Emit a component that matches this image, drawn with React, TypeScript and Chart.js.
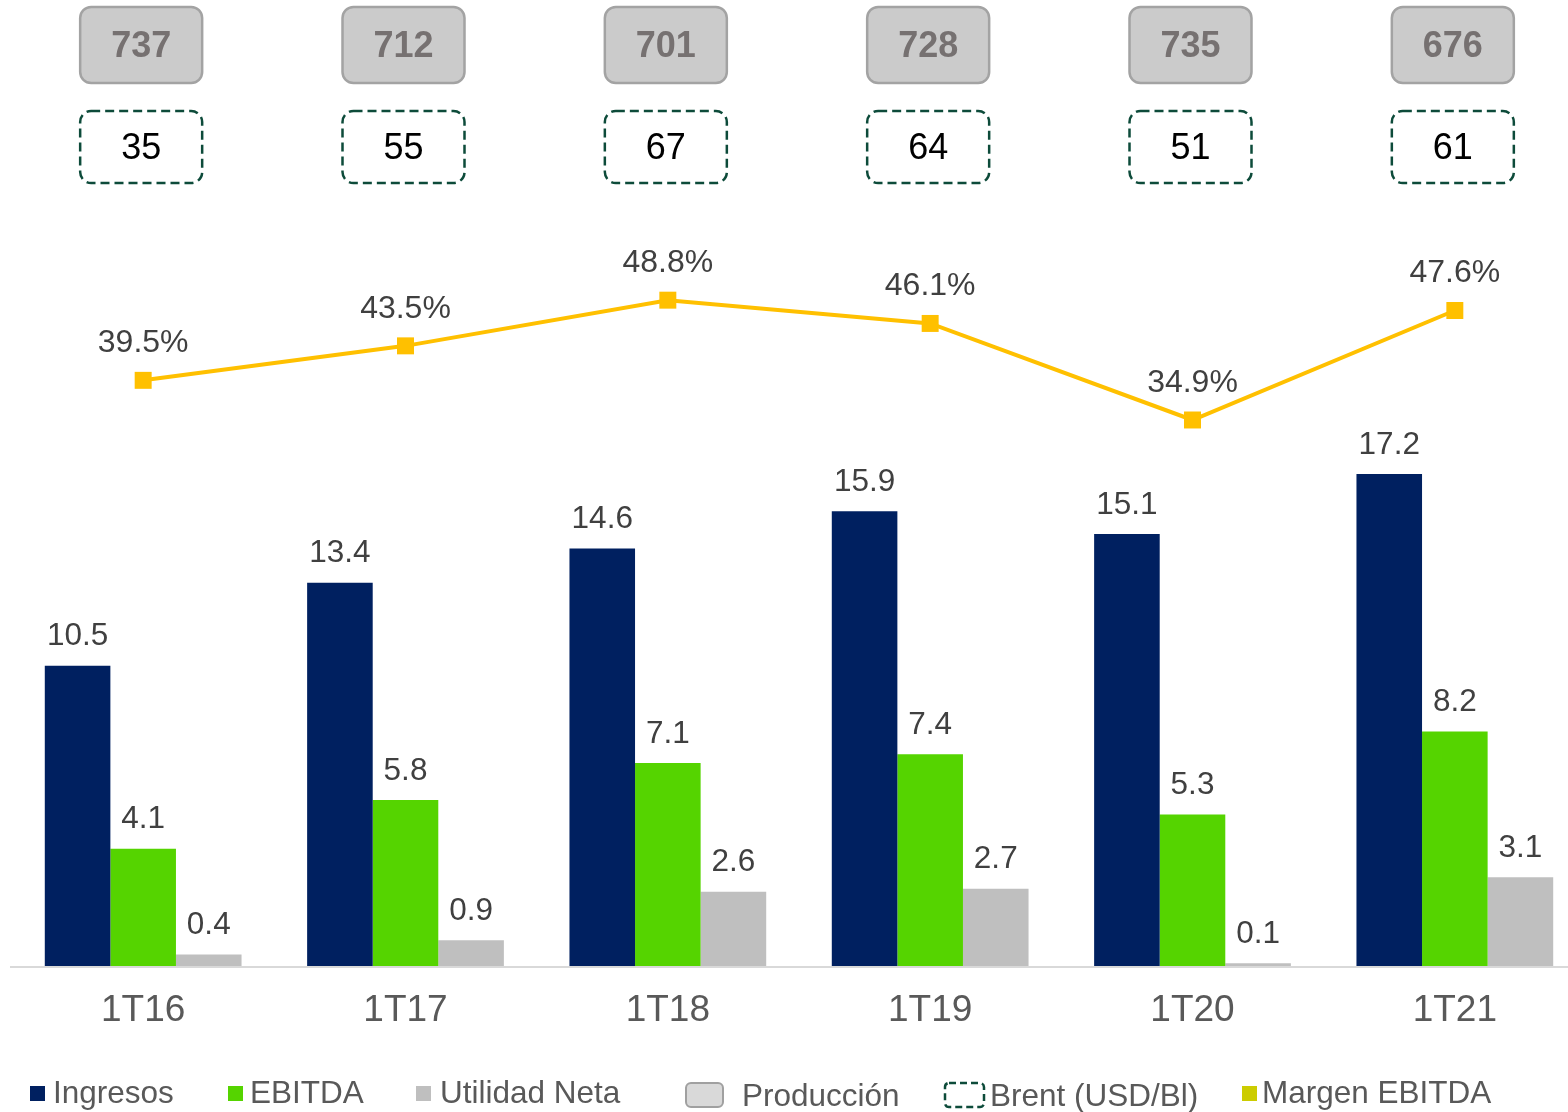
import React, { useEffect, useRef } from "react";
import { Chart, registerables } from "chart.js";

Chart.register(...registerables);

const categories = ["1T16", "1T17", "1T18", "1T19", "1T20", "1T21"];
const ingresos = [10.5, 13.4, 14.6, 15.9, 15.1, 17.2];
const ebitda = [4.1, 5.8, 7.1, 7.4, 5.3, 8.2];
const utilidadNeta = [0.4, 0.9, 2.6, 2.7, 0.1, 3.1];
const margenEbitda = [39.5, 43.5, 48.8, 46.1, 34.9, 47.6];
const produccion = [737, 712, 701, 728, 735, 676];
const brent = [35, 55, 67, 64, 51, 61];

const FONT = '"Liberation Sans", Arial, sans-serif';
const C_NAVY = "#002060";
const C_GREEN = "#55D400";
const C_GRAY = "#BFBFBF";
const C_LINE = "#FFC000";
const C_TEXT = "#404040";
const C_AXISTEXT = "#595959";

const overlayPlugin = {
  id: "overlay",
  beforeDatasetsDraw(chart: any) {
    const ctx = chart.ctx;
    const y = chart.chartArea.bottom;
    ctx.save();
    ctx.strokeStyle = "#D9D9D9";
    ctx.lineWidth = 2;
    ctx.beginPath();
    ctx.moveTo(10, y + 1);
    ctx.lineTo(chart.width, y + 1);
    ctx.stroke();
    ctx.restore();
  },
  afterDatasetsDraw(chart: any) {
    const ctx = chart.ctx;
    const xs = chart.scales.x;
    ctx.save();
    ctx.textAlign = "center";
    ctx.textBaseline = "middle";
    // bar labels
    ctx.font = `31.5px ${FONT}`;
    ctx.fillStyle = C_TEXT;
    [0, 1, 2].forEach((di) => {
      const meta = chart.getDatasetMeta(di);
      const vals = chart.data.datasets[di].data as number[];
      meta.data.forEach((el: any, i: number) => {
        ctx.fillText(vals[i].toFixed(1), el.x, el.y - 29);
      });
    });
    // line labels
    ctx.font = `32px ${FONT}`;
    const lm = chart.getDatasetMeta(3);
    lm.data.forEach((el: any, i: number) => {
      ctx.fillText(margenEbitda[i].toFixed(1) + "%", el.x, el.y - 37);
    });
    // category labels
    ctx.font = `37px ${FONT}`;
    ctx.fillStyle = C_AXISTEXT;
    categories.forEach((c, i) => {
      ctx.fillText(c, xs.getPixelForValue(i), chart.chartArea.bottom + 45);
    });
    // top boxes
    categories.forEach((_, i) => {
      const cx = xs.getPixelForValue(i) - 2;
      // production
      ctx.beginPath();
      ctx.roundRect(cx - 61, 7, 122, 76, 11);
      ctx.fillStyle = "#CBCBCB";
      ctx.fill();
      ctx.lineWidth = 2.5;
      ctx.strokeStyle = "#A3A3A3";
      ctx.setLineDash([]);
      ctx.stroke();
      ctx.font = `bold 36px ${FONT}`;
      ctx.fillStyle = "#767171";
      ctx.fillText(String(produccion[i]), cx, 47);
      // brent
      ctx.beginPath();
      ctx.roundRect(cx - 61, 111, 122, 72, 11);
      ctx.fillStyle = "#FFFFFF";
      ctx.fill();
      ctx.lineWidth = 2.5;
      ctx.strokeStyle = "#0D4B3A";
      ctx.setLineDash([9, 5]);
      ctx.stroke();
      ctx.setLineDash([]);
      ctx.font = `36px ${FONT}`;
      ctx.fillStyle = "#000000";
      ctx.fillText(String(brent[i]), cx, 149);
    });
    // legend
    const ly = 1094;
    ctx.textAlign = "left";
    ctx.font = `31.5px ${FONT}`;
    const squares = [
      { x: 30, color: C_NAVY, text: "Ingresos", tx: 53 },
      { x: 228, color: C_GREEN, text: "EBITDA", tx: 250 },
      { x: 416, color: C_GRAY, text: "Utilidad Neta", tx: 440 },
      { x: 1242, color: "#CCCC00", text: "Margen EBITDA", tx: 1262 },
    ];
    squares.forEach((s) => {
      ctx.fillStyle = s.color;
      ctx.fillRect(s.x, ly - 8, 15, 15);
      ctx.fillStyle = C_AXISTEXT;
      ctx.fillText(s.text, s.tx, ly);
    });
    // production legend box
    ctx.beginPath();
    ctx.roundRect(686, 1083, 37, 24, 5);
    ctx.fillStyle = "#D9D9D9";
    ctx.fill();
    ctx.lineWidth = 2;
    ctx.strokeStyle = "#A0A0A0";
    ctx.stroke();
    ctx.fillStyle = C_AXISTEXT;
    ctx.fillText("Producción", 742, ly + 3);
    // brent legend box
    ctx.beginPath();
    ctx.roundRect(945, 1083, 39, 24, 4);
    ctx.lineWidth = 2.5;
    ctx.strokeStyle = "#0D4B3A";
    ctx.setLineDash([7, 4]);
    ctx.stroke();
    ctx.setLineDash([]);
    ctx.fillStyle = C_AXISTEXT;
    ctx.fillText("Brent (USD/Bl)", 990, ly + 3);
    ctx.restore();
  },
};

export default function App() {
  const ref = useRef<HTMLCanvasElement | null>(null);
  useEffect(() => {
    if (!ref.current) return;
    const chart = new Chart(ref.current, {
      type: "bar",
      data: {
        labels: categories,
        datasets: [
          { label: "Ingresos", data: ingresos, backgroundColor: C_NAVY, yAxisID: "y", order: 2, categoryPercentage: 0.75, barPercentage: 1 },
          { label: "EBITDA", data: ebitda, backgroundColor: C_GREEN, yAxisID: "y", order: 2, categoryPercentage: 0.75, barPercentage: 1 },
          { label: "Utilidad Neta", data: utilidadNeta, backgroundColor: C_GRAY, yAxisID: "y", order: 2, categoryPercentage: 0.75, barPercentage: 1 },
          {
            type: "line",
            label: "Margen EBITDA",
            data: margenEbitda,
            borderColor: C_LINE,
            backgroundColor: C_LINE,
            borderWidth: 4,
            pointStyle: "rect",
            pointRadius: 12,
            pointBorderWidth: 0,
            yAxisID: "y2",
            order: 1,
          } as any,
        ],
      },
      options: {
        responsive: false,
        animation: false,
        devicePixelRatio: 1,
        layout: { padding: { left: 11, right: 14, top: 200, bottom: 146 } },
        plugins: { legend: { display: false }, tooltip: { enabled: false } },
        scales: {
          x: { display: false, offset: true },
          y: { display: false, min: 0, max: 26.78 },
          y2: { display: false, min: -28.44, max: 60.42 },
        },
      } as any,
      plugins: [overlayPlugin],
    });
    return () => chart.destroy();
  }, []);
  return (
    <div
      style={{
        position: "fixed",
        left: 0,
        top: 0,
        width: 1568,
        height: 1112,
        overflow: "hidden",
        background: "#fff",
      }}
    >
      <canvas ref={ref} width={1600} height={1112} style={{ width: 1600, height: 1112, display: "block" }} />
    </div>
  );
}
